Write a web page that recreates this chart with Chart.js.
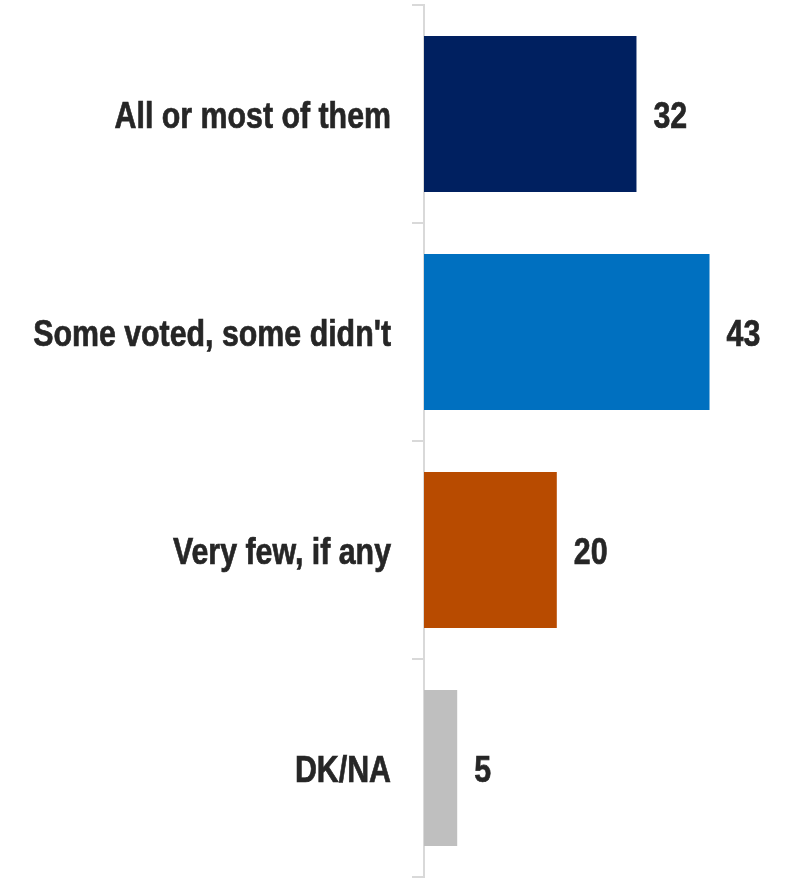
<!doctype html>
<html lang="en">
<head>
<meta charset="utf-8">
<title>Voted</title>
<style>
  *{box-sizing:border-box;margin:0;padding:0}
  html,body{background:#fff}
  .wrap{position:relative;width:787px;height:879px}
</style>
</head>
<body>
<div class="wrap"><canvas id="chart"></canvas></div>

<script src="https://cdn.jsdelivr.net/npm/chart.js"></script>
<script>
// data
const categories = ['All or most of them', "Some voted, some didn't", 'Very few, if any', 'DK/NA'];
const values = [32, 43, 20, 5];
const barColors = ['#002060', '#0070c0', '#b84b00', '#bfbfbf'];

const FONT = "bold 37px 'Liberation Sans',Arial,sans-serif";
const TEXT = '#262626';
const NARROW = 0.82; // squeeze to look like Arial Narrow

// narrow text helper (light stroke makes it a bit heavier)
function narrowText(ctx, txt, x, y, align){
  ctx.save();
  ctx.translate(x, y);ctx.scale(NARROW, 1);
  ctx.textAlign = align;ctx.fillText(txt, 0, 0);ctx.strokeText(txt, 0, 0);
  ctx.restore();
}

// category labels + value labels
const labels = { id:'labels', afterDatasetsDraw(c){
  const {ctx} = c, meta = c.getDatasetMeta(0);
  ctx.save();
  ctx.font = FONT;ctx.fillStyle = TEXT;ctx.strokeStyle = TEXT;ctx.lineWidth = 0.7;
  ctx.textBaseline = 'alphabetic';
  meta.data.forEach((bar,i)=>{
    narrowText(ctx, categories[i], 391, bar.y + 13.5, 'right');
    narrowText(ctx, String(values[i]), bar.x + 17, bar.y + 13.5, 'left');
  });
  ctx.restore();
}};

new Chart(document.getElementById('chart'), {
  type:'bar',
  data:{labels:categories, datasets:[{data:values, backgroundColor:barColors, borderWidth:0,
    barPercentage:0.716, categoryPercentage:1}]},
  options:{
    indexAxis:'y', animation:false, responsive:true, maintainAspectRatio:false,
    layout:{padding:{top:5, bottom:2, left:0, right:31}},
    plugins:{legend:{display:false}, tooltip:{enabled:false}},
    scales:{
      x:{display:false, min:0, max:50},
      y:{
        afterFit(s){ s.width = 424; s.paddingTop = 0; s.paddingBottom = 0; },
        border:{color:'#d9d9d9', width:2},
        grid:{offset:true, drawOnChartArea:false, tickLength:12, color:'#d9d9d9', lineWidth:2},
        ticks:{display:false}
      }
    }
  },
  plugins:[labels]
});
</script>
</body>
</html>
